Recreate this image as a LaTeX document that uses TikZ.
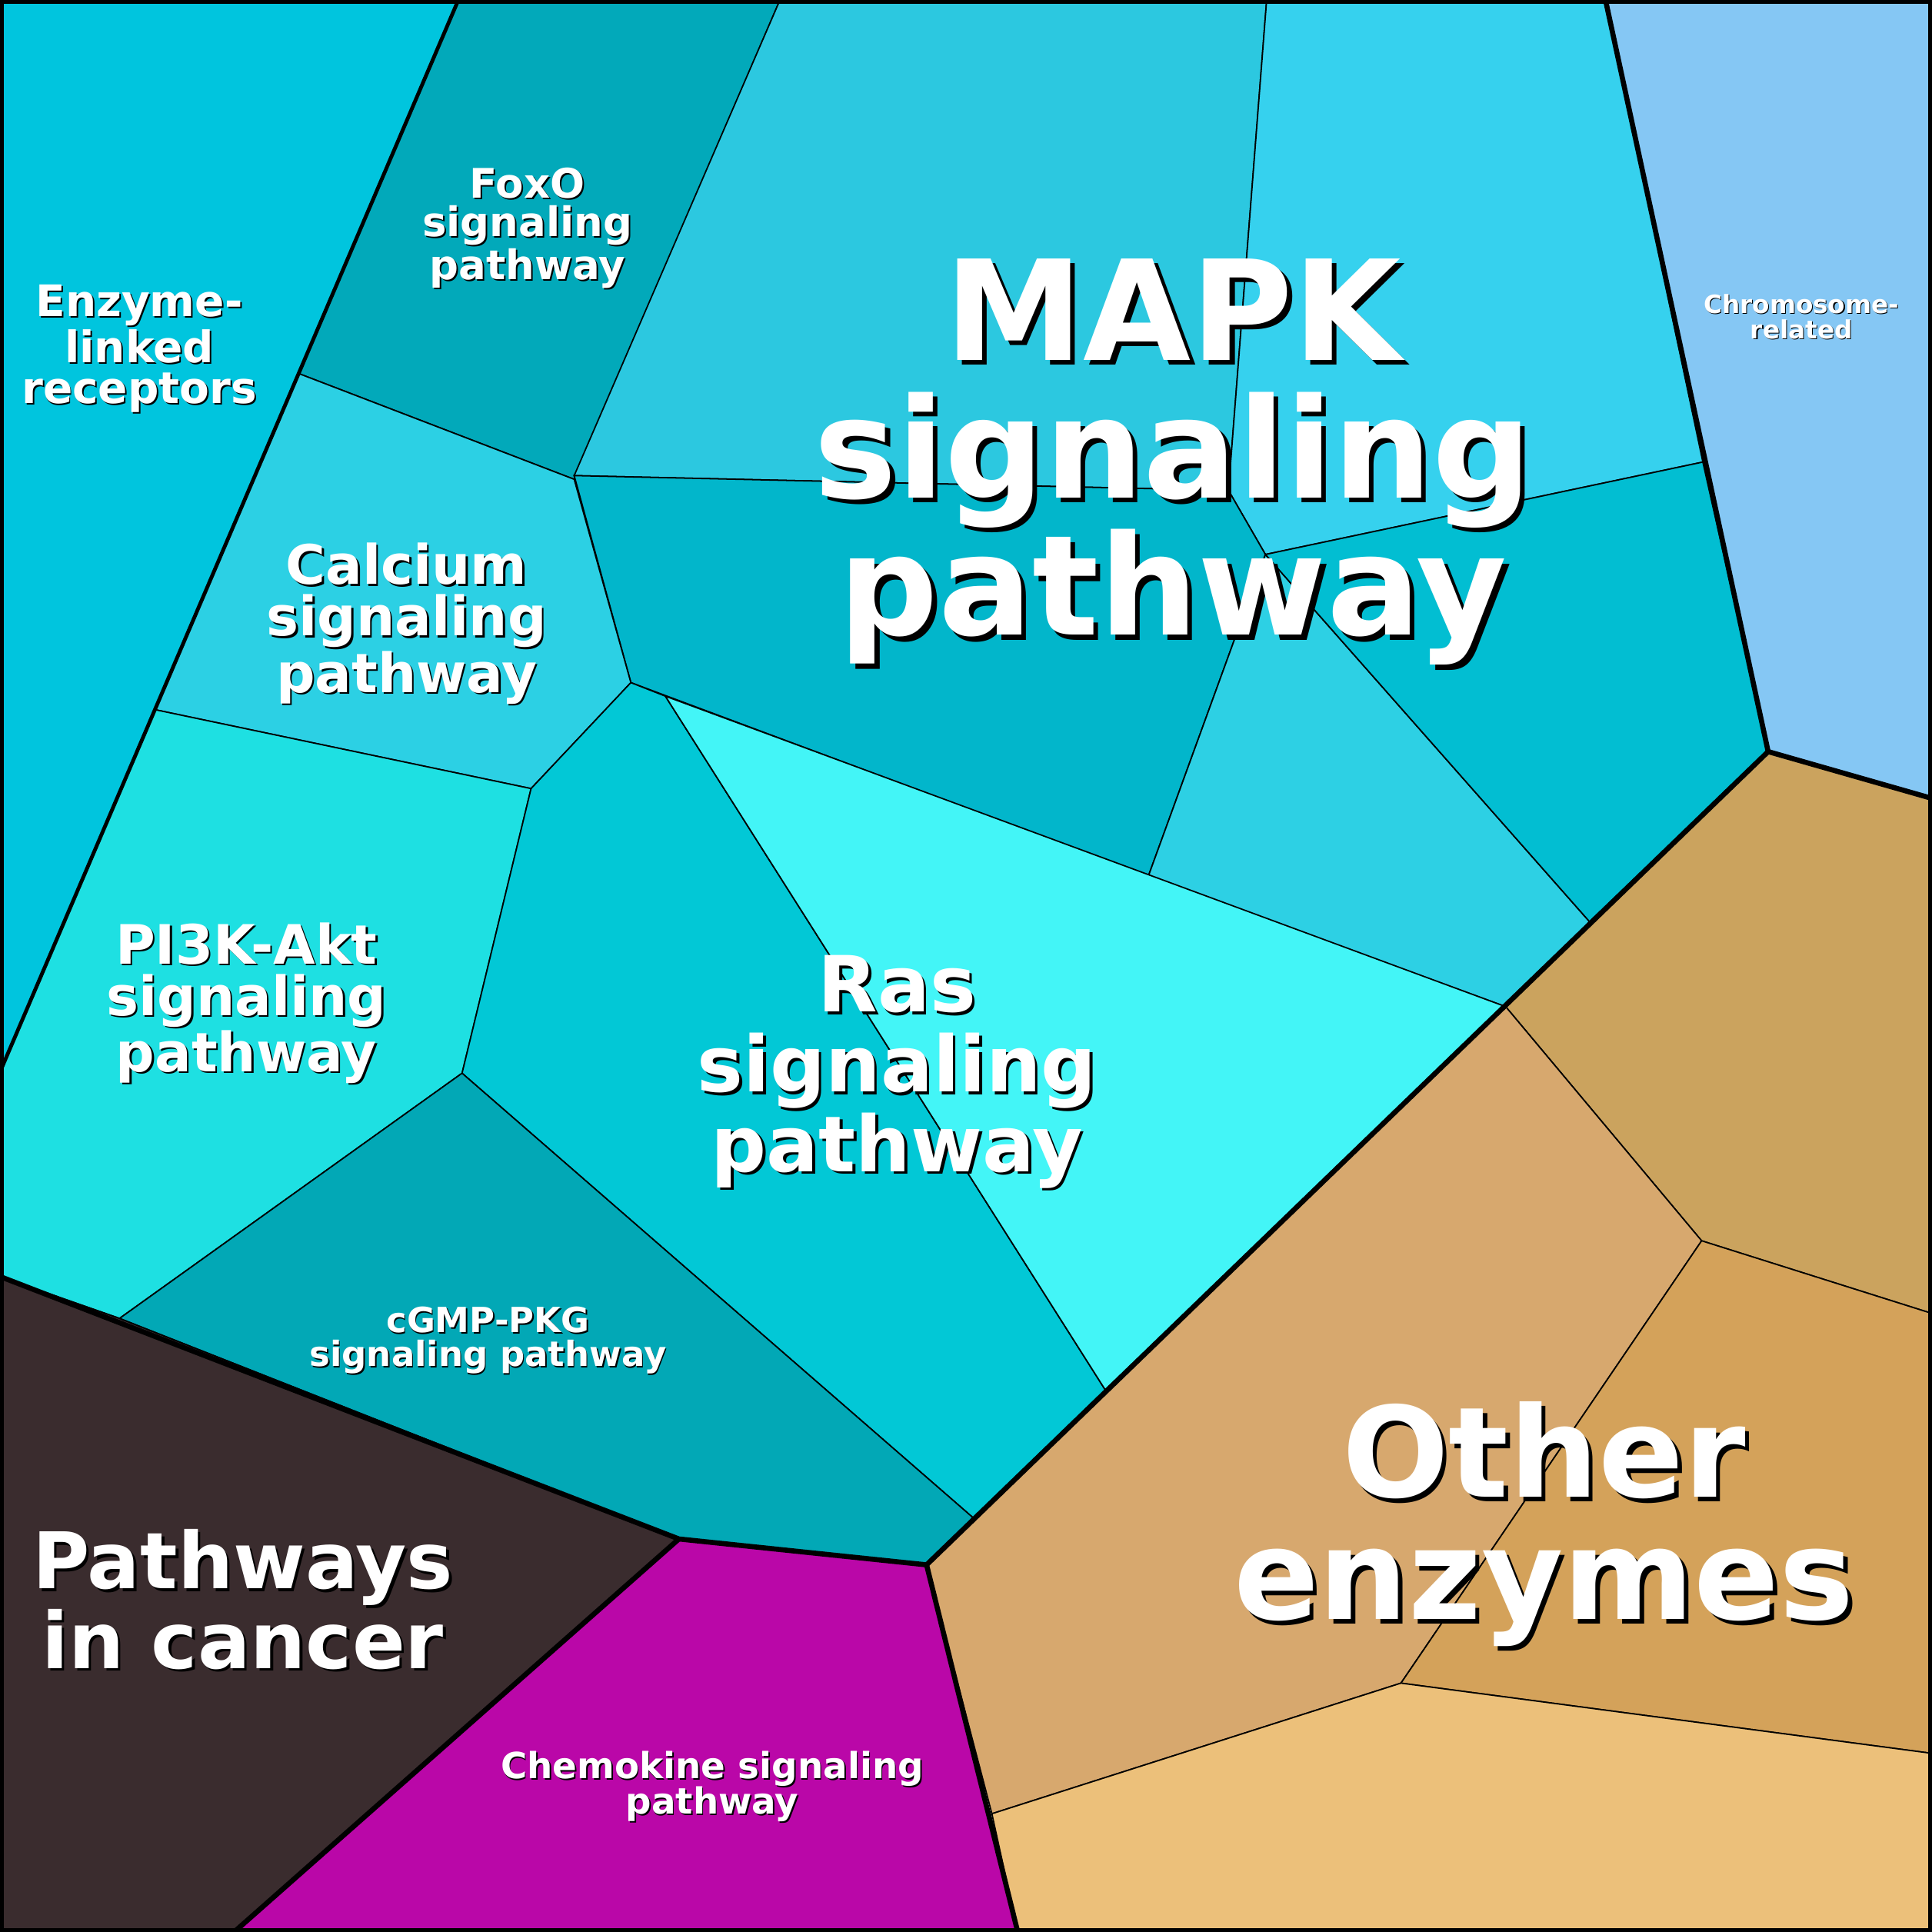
\documentclass[tikz,border=0pt]{standalone}
\usepackage{fontspec}
\setmainfont{DejaVu Sans}
\begin{document}
\begin{tikzpicture}[x=0.01276cm,y=-0.01276cm,
  cell/.style={draw=black,line width=0.4pt},
  split/.style={draw=black,line width=1.5pt,line join=round},
  lbl/.style={text=white,align=center,font=\bfseries}]
\useasboundingbox (0,0) rectangle (1568,1568);
\definecolor{cEnz}{HTML}{00C5DE}
\definecolor{cFox}{HTML}{02A9BA}
\definecolor{cMa}{HTML}{2CC8E0}
\definecolor{cMb}{HTML}{36D1EE}
\definecolor{cMc}{HTML}{02B6CB}
\definecolor{cMd}{HTML}{2DD0E4}
\definecolor{cMe}{HTML}{02BED2}
\definecolor{cChr}{HTML}{85C7F4}
\definecolor{cCal}{HTML}{2CD0E4}
\definecolor{cPik}{HTML}{1EE0E2}
\definecolor{cRa}{HTML}{02C8D6}
\definecolor{cRb}{HTML}{43F5F7}
\definecolor{cGmp}{HTML}{02A8B6}
\definecolor{cCan}{HTML}{3A2C2E}
\definecolor{cChe}{HTML}{BA07A8}
\definecolor{cOa}{HTML}{CBA35E}
\definecolor{cOb}{HTML}{D7A86E}
\definecolor{cOc}{HTML}{D4A25A}
\definecolor{cOd}{HTML}{ECC07A}
% cells
\fill[cEnz,cell] (0,0) -- (372,0) -- (242,303) -- (126,576) -- (0,870) -- cycle;
\fill[cFox,cell] (372,0) -- (633,0) -- (466,389) -- (242,303) -- cycle;
\fill[cMa,cell] (633,0) -- (1028,0) -- (997,398) -- (466,386) -- cycle;
\fill[cMb,cell] (1028,0) -- (1303,0) -- (1382,375) -- (1027,450) -- (997,398) -- cycle;
\fill[cMc,cell] (466,386) -- (997,398) -- (1027,450) -- (932,711) -- (512,554) -- cycle;
\fill[cMd,cell] (1027,450) -- (1290,748) -- (1222,817) -- (932,711) -- cycle;
\fill[cMe,cell] (1027,450) -- (1382,375) -- (1435,610) -- (1290,748) -- cycle;
\fill[cChr,cell] (1303,0) -- (1568,0) -- (1568,648) -- (1435,610) -- cycle;
\fill[cCal,cell] (242,303) -- (466,389) -- (512,554) -- (431,640) -- (126,576) -- cycle;
\fill[cPik,cell] (126,576) -- (431,640) -- (375,871) -- (97,1070) -- (0,1036) -- (0,870) -- cycle;
\fill[cRa,cell] (512,554) -- (540,565) -- (897,1128) -- (790,1232) -- (375,871) -- (431,640) -- cycle;
\fill[cRb,cell] (540,565) -- (1222,817) -- (897,1128) -- cycle;
\fill[cGmp,cell] (375,871) -- (790,1232) -- (752,1270) -- (551,1249) -- (97,1070) -- cycle;
\fill[cCan,cell] (0,1036) -- (97,1070) -- (551,1249) -- (190,1568) -- (0,1568) -- cycle;
\fill[cChe,cell] (551,1249) -- (752,1270) -- (826,1568) -- (190,1568) -- cycle;
\fill[cOa,cell] (1222,817) -- (1435,610) -- (1568,648) -- (1568,1066) -- (1381,1007) -- cycle;
\fill[cOb,cell] (752,1270) -- (1222,817) -- (1381,1007) -- (1137,1366) -- (805,1472) -- cycle;
\fill[cOc,cell] (1381,1007) -- (1568,1066) -- (1568,1423) -- (1137,1366) -- cycle;
\fill[cOd,cell] (805,1472) -- (1137,1366) -- (1568,1423) -- (1568,1568) -- (826,1568) -- cycle;
% group borders
\draw[split,line width=1.1pt] (372,0) -- (0,870);
\draw[split] (1303,0) -- (1435,610) -- (1568,648);
\draw[split] (1435,610) -- (752,1270) -- (826,1568);
\draw[split] (0,1036) -- (551,1249) -- (752,1270);
\draw[split] (551,1249) -- (190,1568);
\draw[black,line width=2.2pt] (0,0) rectangle (1568,1568);
% labels
\newcommand{\shlabel}[5]{%
  \node[lbl,text=black,font=\bfseries\fontsize{#3}{#4}\selectfont] at ([xshift=#3*0.035pt,yshift=-#3*0.035pt]#1) {#5};
  \node[lbl,font=\bfseries\fontsize{#3}{#4}\selectfont] (#2) at (#1) {#5};}
\shlabel{952,375}{mapk}{41}{40.5}{MAPK\\signaling\\pathway}
\shlabel{728,870}{ras}{22.8}{23.5}{Ras\\signaling\\pathway}
\shlabel{1253,1237}{other}{37}{36}{Other\\enzymes}
\shlabel{197,1298}{cancer}{23}{20.6}{Pathways\\in cancer}
\shlabel{330,506}{calcium}{16}{15.2}{Calcium\\signaling\\pathway}
\shlabel{200,814}{pik}{16}{15.2}{PI3K-Akt\\signaling\\pathway}
\shlabel{113,283}{enzyme}{12.8}{12}{Enzyme-\\linked\\receptors}
\shlabel{428,185}{foxo}{12}{11.3}{FoxO\\signaling\\pathway}
\shlabel{396,1088}{cgmp}{10.2}{10}{cGMP-PKG\\signaling pathway}
\shlabel{578,1450}{chemo}{10.6}{10.5}{Chemokine signaling\\pathway}
\shlabel{1462,257}{chromo}{7.4}{7.6}{Chromosome-\\related}
\end{tikzpicture}
\end{document}
